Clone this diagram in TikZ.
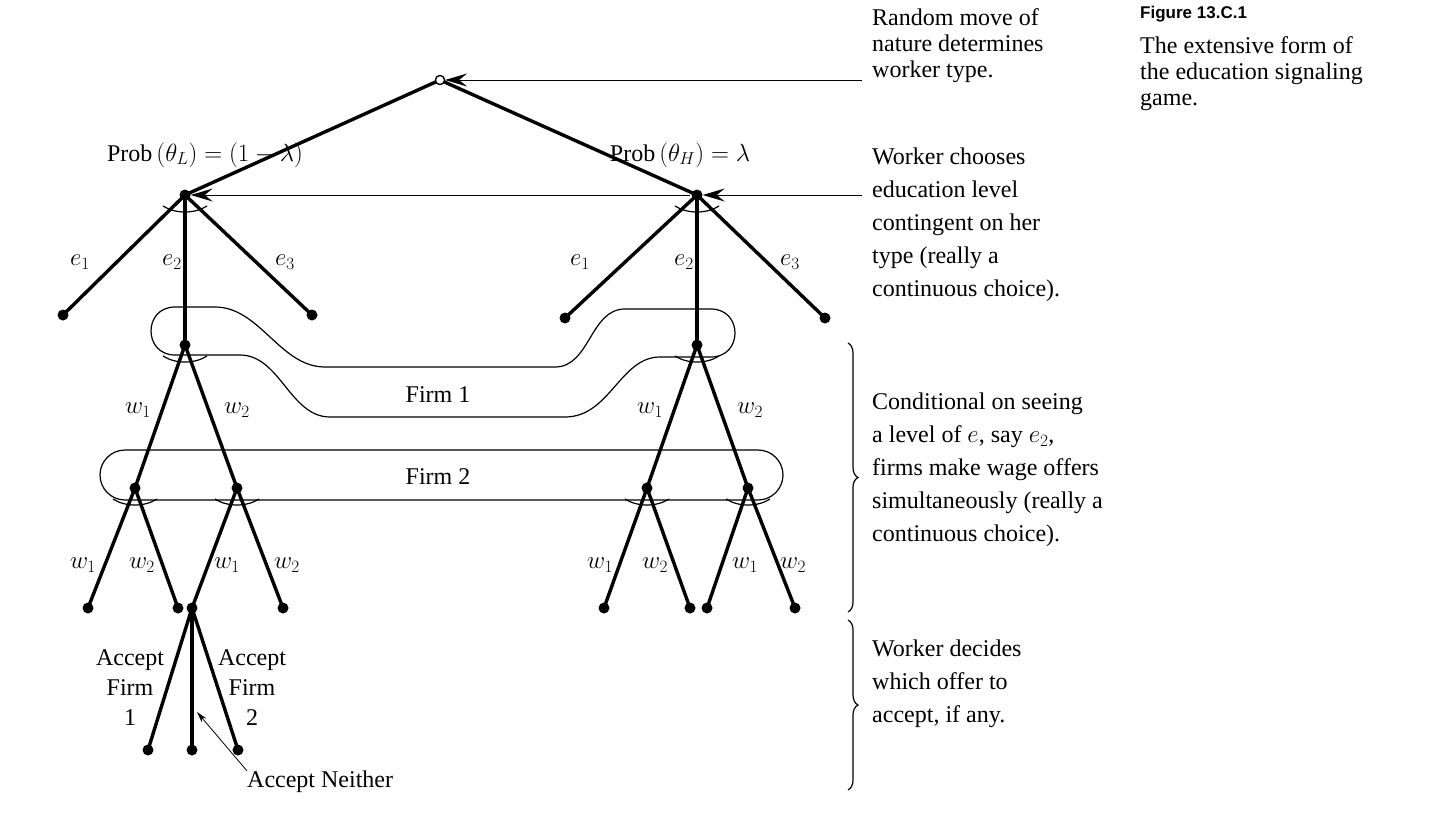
\documentclass[tikz,border=0pt]{standalone}
\usepackage{fontspec}
\setmainfont{Liberation Serif}
\newfontfamily\capsans{Liberation Sans}
\usetikzlibrary{arrows.meta,decorations.pathreplacing}
\begin{document}
\begin{tikzpicture}[x=1pt,y=-1pt,
  dot/.style={circle,fill=black,inner sep=0pt,minimum size=11pt},
  odot/.style={circle,draw=black,line width=1.2pt,fill=white,inner sep=0pt,minimum size=9pt},
  br/.style={line width=3.4pt},
  lbl/.style={font=\fontsize{24}{27}\selectfont,inner sep=0pt},
  txt/.style={font=\fontsize{24}{33}\selectfont,inner sep=0pt,anchor=north west,align=left},
  ptr/.style={line width=1pt,-{Stealth[length=22pt,width=13pt,inset=8pt]}},
  iset/.style={line width=1.2pt},
  pics/ar/.style={code={\draw[line width=1.2pt] (-22,11) .. controls (-10,19) and (10,19) .. (22,11);}}]
\useasboundingbox (0,0) rectangle (1440,819);
% nodes
\node[odot] (N) at (440,80) {};
\node[dot] (WL) at (185,195) {};
\node[dot] (WH) at (697,195) {};
\node[dot] (LA) at (63,315) {};
\node[dot] (LB) at (185,345) {};
\node[dot] (LC) at (312,315) {};
\node[dot] (RA) at (565,318) {};
\node[dot] (RB) at (697,345) {};
\node[dot] (RC) at (825,318) {};
\node[dot] (LB1) at (135,488) {};
\node[dot] (LB2) at (237,488) {};
\node[dot] (RB1) at (647,488) {};
\node[dot] (RB2) at (748,488) {};
\node[dot] (T1) at (88,608) {};
\node[dot] (T2) at (178,608) {};
\node[dot] (AC) at (192,608) {};
\node[dot] (T4) at (283,608) {};
\node[dot] (T5) at (604,608) {};
\node[dot] (T6) at (690,608) {};
\node[dot] (T7) at (707,608) {};
\node[dot] (T8) at (795,608) {};
\node[dot] (F1) at (148,750) {};
\node[dot] (F0) at (192,750) {};
\node[dot] (F2) at (238,750) {};
% branches
\draw[br] (N.center) -- (WL.center);
\draw[br] (N.center) -- (WH.center);
\foreach \a/\b in {WL/LA,WL/LB,WL/LC,WH/RA,WH/RB,WH/RC,LB/LB1,LB/LB2,RB/RB1,RB/RB2,
  LB1/T1,LB1/T2,LB2/AC,LB2/T4,RB1/T5,RB1/T6,RB2/T7,RB2/T8,AC/F1,AC/F0,AC/F2}
  \draw[br] (\a.center) -- (\b.center);
\node[odot] at (N) {};
% small arcs
\foreach \n in {WL,WH,LB,RB,LB1,LB2,RB1,RB2} \pic at (\n) {ar};
% information sets
\draw[iset] (175,307) -- (215,307) .. controls (260,307) and (280,367) .. (325,367)
  -- (555,367) .. controls (590,367) and (590,309) .. (625,309) -- (711,309)
  .. controls (743,309) and (743,357) .. (711,357) -- (660,357)
  .. controls (620,357) and (610,417) .. (565,417) -- (330,417)
  .. controls (290,417) and (280,355) .. (240,355) -- (175,355)
  .. controls (143,355) and (143,307) .. (175,307) -- cycle;
\draw[iset,rounded corners=25pt] (100,450) rectangle (783,500);
\node[lbl] (firm1) at (438,395) {Firm 1};
\node[lbl] (firm2) at (438,477) {Firm 2};
% labels
\node[lbl] (pL) at (205,155) {Prob\,$(\theta_L) = (1-\lambda)$};
\node[lbl] (pH) at (680,155) {Prob\,$(\theta_H) = \lambda$};
\foreach \x/\t in {80/1,172/2,285/3,580/1,684/2,790/3}
  \node[lbl] at (\x,262) {$e_\t$};
\foreach \x/\t in {138/1,237/2,650/1,750/2}
  \node[lbl] at (\x,410) {$w_\t$};
\foreach \x/\t in {83/1,142/2,227/1,287/2,600/1,655/2,745/1,793/2}
  \node[lbl] at (\x,565) {$w_\t$};
\node[lbl,align=center,font=\fontsize{24}{30}\selectfont] (acc1) at (130,688) {Accept\\Firm\\1};
\node[lbl,align=center,font=\fontsize{24}{30}\selectfont] (acc2) at (252,688) {Accept\\Firm\\2};
\node[lbl,anchor=west] (accn) at (247,782) {Accept Neither};
\draw[line width=0.8pt,-{Stealth[length=11pt,width=6pt]}] (accn.north west) -- (197,712);
% annotations
\node[txt,font=\fontsize{24}{26}\selectfont] (t1) at (872,8) {Random move of\\nature determines\\worker type.};
\node[txt] (t2) at (872,148) {Worker chooses\\education level\\contingent on her\\type (really a\\continuous choice).};
\node[txt] (t3) at (872,393) {Conditional on seeing\\a level of $e$, say $e_2$,\\firms make wage offers\\simultaneously (really a\\continuous choice).};
\node[txt] (t4) at (872,640) {Worker decides\\which offer to\\accept, if any.};
\coordinate (a1) at (862,80);
\coordinate (a2) at (862,195);
\coordinate (a3) at (690,195);
\draw[ptr] (a1) -- (N);
\draw[ptr] (a2) -- (WH);
\draw[ptr] (a3) -- (WL);
\draw[line width=1.2pt,decorate,decoration={brace,amplitude=10pt}] (848,343) -- (848,612);
\draw[line width=1.2pt,decorate,decoration={brace,amplitude=10pt}] (848,620) -- (848,790);
% caption
\node[inner sep=0pt,anchor=north west,font=\capsans\bfseries\fontsize{17}{20}\selectfont] (fig) at (1140,6) {Figure 13.C.1};
\node[txt,font=\fontsize{24}{26}\selectfont] (cap) at (1140,36) {The extensive form of\\the education signaling\\game.};
\end{tikzpicture}
\end{document}
